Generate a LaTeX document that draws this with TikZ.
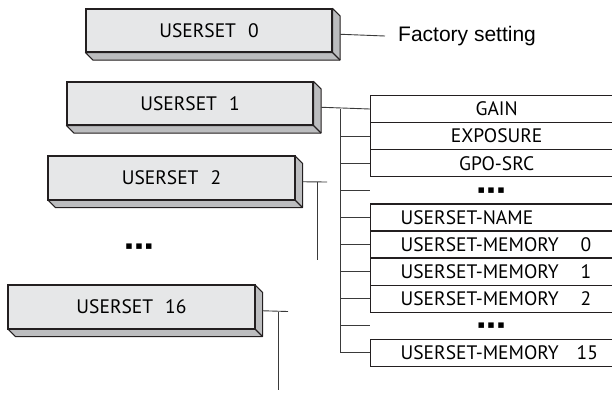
\documentclass[tikz,border=0pt]{standalone}
\usepackage{fontspec}
\setmainfont{PT Sans}
\newfontfamily\arialfont{Liberation Sans}
\newfontfamily\dejavu{DejaVu Sans}
\usetikzlibrary{calc}
\definecolor{facegray}{HTML}{E6E7E8}
\definecolor{sidegray}{HTML}{BCBDBF}
\definecolor{edgecol}{HTML}{231F20}
\definecolor{linecol}{HTML}{3A3A3A}
\newcommand\boxdepth{7.5}
\newcommand\extrude[1]{%
  \draw[edgecol, line width=1.1pt, line join=round, fill=sidegray]
    (#1.north east) -- ++(\boxdepth,\boxdepth) -- ([shift={(\boxdepth,\boxdepth)}]#1.south east)
    -- ([shift={(\boxdepth,\boxdepth)}]#1.south west) -- (#1.south west) -- (#1.south east) -- cycle;
  \draw[edgecol, line width=1.1pt] (#1.south east) -- ++(\boxdepth,\boxdepth);
  \draw[edgecol, line width=1.1pt, fill=facegray] (#1.south west) rectangle (#1.north east);
}
\newcommand\dotsrow{{\dejavu\fontsize{11}{11}\selectfont ▪\hspace{2.5pt}▪\hspace{2.5pt}▪}}
\begin{document}
\begin{tikzpicture}[x=1pt,y=-1pt,
  userbox/.style={draw=edgecol, fill=facegray, line width=1.1pt, minimum width=246pt, minimum height=43pt,
     inner sep=0pt, font=\fontsize{19.5}{22}\selectfont},
  listbox/.style={draw=edgecol, line width=1.3pt, minimum width=252pt, minimum height=27.1pt, anchor=west,
     inner sep=0pt, font=\fontsize{19.5}{22}\selectfont},
  listleft/.style={listbox, align=left, text width=192pt, inner xsep=30pt},
  plain/.style={anchor=west, inner sep=0pt, minimum width=242pt, minimum height=27.1pt, align=center},
  conn/.style={draw=linecol, line width=0.9pt}
]
\useasboundingbox (0,0) rectangle (612,392);
\clip (0,0) rectangle (612,392);

% userset boxes
\node[userbox] (u0) at (209,30.5) {USERSET\hspace{12pt}0};
\node[userbox] (u1) at (190,103.5) {USERSET\hspace{12pt}1};
\node[userbox] (u2) at (171.5,178) {USERSET\hspace{12pt}2};
\node[userbox] (u16) at (131.5,307) {USERSET\hspace{12pt}16};
\extrude{u0}
\extrude{u1}
\extrude{u2}
\extrude{u16}
\node[userbox] at (u0) {USERSET\hspace{12pt}0};
\node[userbox] at (u1) {USERSET\hspace{12pt}1};
\node[userbox] at (u2) {USERSET\hspace{12pt}2};
\node[userbox] at (u16) {USERSET\hspace{12pt}16};

\node[inner sep=0pt] (udots) at (139,247) {\dotsrow};

% factory setting
\node[anchor=west, inner sep=0pt, font=\arialfont\fontsize{21}{24}\selectfont] (fs) at (398,36) {Factory setting};
\draw[conn] ([shift={(\boxdepth,\boxdepth/2)}]u0.east) -- ([xshift=-13pt]fs.west);

% list boxes
\node[listbox] (r0) at (370,109) {GAIN};
\node[listbox] (r1) at (370,136.1) {EXPOSURE};
\node[listbox] (r2) at (370,163.2) {GPO-SRC};
\node[plain] (r3) at (370,190.3) {\dotsrow};
\node[listleft] (r4) at (370,217.4) {USERSET-NAME};
\node[listleft] (r5) at (370,244.5) {\makebox[180pt][l]{USERSET-MEMORY}0};
\node[listleft] (r6) at (370,271.6) {\makebox[180pt][l]{USERSET-MEMORY}1};
\node[listleft] (r7) at (370,298.7) {\makebox[180pt][l]{USERSET-MEMORY}2};
\node[plain] (r8) at (370,325.8) {\dotsrow};
\node[listleft] (r9) at (370,352.9) {\makebox[176pt][l]{USERSET-MEMORY}15};

% tree from userset 1
\coordinate (trunk) at (340,109);
\draw[conn] ([shift={(\boxdepth,\boxdepth/2)}]u1.east) -- (r0.west);
\draw[conn] (trunk) |- (r9.west);
\foreach \r in {r1,r2,r3,r4,r5,r6,r7,r8} {
  \draw[conn] (trunk |- \r.west) -- (\r.west);
}

% userset 2 stub
\coordinate (u2end) at (327,182);
\coordinate (u2tail) at (317,260);
\draw[conn] ([shift={(\boxdepth,\boxdepth/2)}]u2.east) -- (u2end);
\draw[conn] (u2tail |- u2end) -- (u2tail);

% userset 16 stub
\coordinate (u16end) at (288,311.5);
\coordinate (u16tail) at (278,390);
\draw[conn] ([shift={(\boxdepth,\boxdepth/2)}]u16.east) -- (u16end);
\draw[conn] (u16tail |- u16end) -- (u16tail);
\end{tikzpicture}
\end{document}
